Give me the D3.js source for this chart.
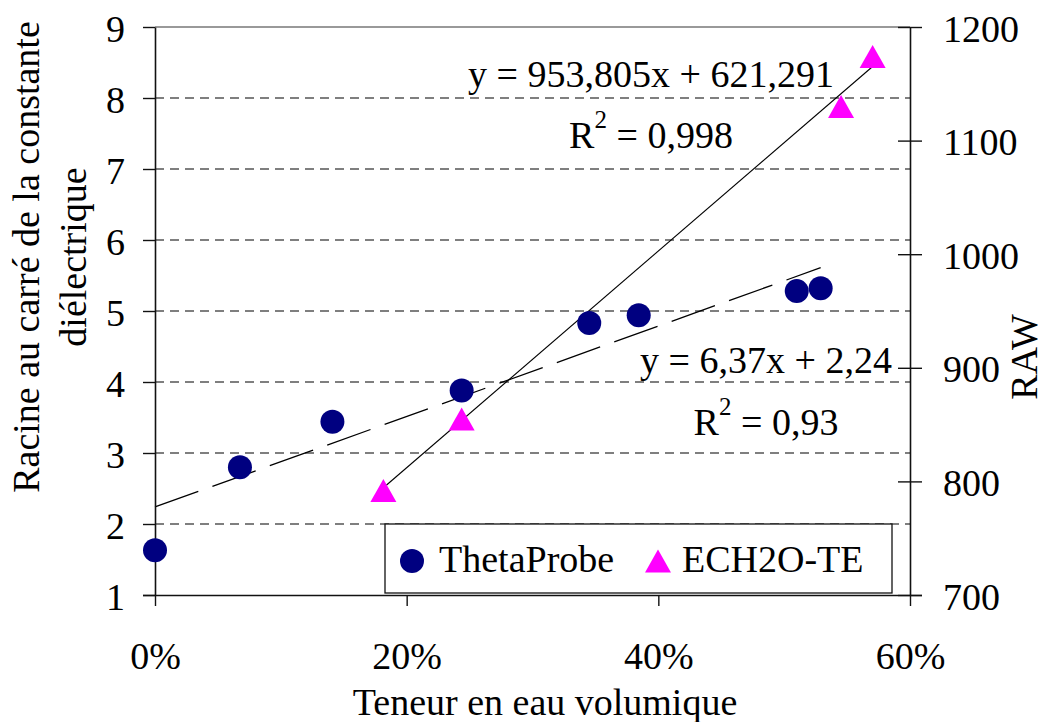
<!DOCTYPE html>
<html>
<head>
<meta charset="utf-8">
<script src="https://cdn.jsdelivr.net/npm/d3@7/dist/d3.min.js"></script>
<style>
  html, body { margin: 0; padding: 0; background: #fff; }
  svg { display: block; }
  text { font-family: "Liberation Serif", "Times New Roman", serif; fill: #000; }
</style>
</head>
<body>
<svg id="chart" width="1046" height="722"></svg>
<script>
// ThetaProbe: volumetric water content vs square root of dielectric constant (left axis)
const thetaX = [0, 0.0675, 0.141, 0.2437, 0.3451, 0.3844, 0.510, 0.529];
const thetaY = [1.63, 2.80, 3.44, 3.88, 4.83, 4.94, 5.28, 5.32];
// ECH2O-TE: volumetric water content vs raw reading (right axis)
const echoX = [0.1815, 0.2437, 0.5452, 0.5703];
const echoY = [792, 855, 1130, 1174];

// Linear fits shown on the chart
const thetaFit = { slope: 6.37, intercept: 2.24, label: "y = 6,37x + 2,24", r2: "0,93" };
const echoFit = { slope: 953.805, intercept: 621.291, label: "y = 953,805x + 621,291", r2: "0,998" };

const xTicks = [0, 0.2, 0.4, 0.6];
const leftTicks = [1, 2, 3, 4, 5, 6, 7, 8, 9];
const rightTicks = [700, 800, 900, 1000, 1100, 1200];
const seriesNames = ["ThetaProbe", "ECH2O-TE"];

const NAVY = "#000080", MAGENTA = "#FF00FF";
const FS = 38;

const svg = d3.select("#chart");
const L = 155, R = 910, T = 27, B = 595;

const x = d3.scaleLinear().domain([0, 0.6]).range([L, R]);
const yL = d3.scaleLinear().domain([1, 9]).range([B, T]);
const yR = d3.scaleLinear().domain([700, 1200]).range([B, T]);

// Horizontal gridlines
svg.append("g").selectAll("line")
  .data(leftTicks.filter(d => d > 1))
  .join("line")
  .attr("x1", L).attr("x2", R)
  .attr("y1", d => yL(d)).attr("y2", d => yL(d))
  .attr("stroke", d => d === 9 ? "#777" : "#555")
  .attr("stroke-width", 1.3)
  .attr("stroke-dasharray", d => d === 9 ? null : "9,6");

// Trend lines
const thetaDom = d3.extent(thetaX);
svg.append("line")
  .attr("x1", x(thetaDom[0])).attr("y1", yL(thetaFit.slope * thetaDom[0] + thetaFit.intercept))
  .attr("x2", x(thetaDom[1])).attr("y2", yL(thetaFit.slope * thetaDom[1] + thetaFit.intercept))
  .attr("stroke", "#000").attr("stroke-width", 1.3)
  .attr("stroke-dasharray", "46,15");

const echoDom = d3.extent(echoX);
svg.append("line")
  .attr("x1", x(echoDom[0])).attr("y1", yR(echoFit.slope * echoDom[0] + echoFit.intercept))
  .attr("x2", x(echoDom[1])).attr("y2", yR(echoFit.slope * echoDom[1] + echoFit.intercept))
  .attr("stroke", "#000").attr("stroke-width", 1.1);

// Axes
const axisStyle = g => {
  g.selectAll("path.domain").attr("stroke", "#111").attr("stroke-width", 1.6);
  g.selectAll(".tick line").attr("stroke", "#111").attr("stroke-width", 1.4);
  g.selectAll(".tick text").attr("font-size", FS).attr("font-family", "Liberation Serif, Times New Roman, serif").attr("fill", "#000");
};

const gL = svg.append("g").attr("transform", `translate(${L},0)`)
  .call(d3.axisLeft(yL).tickValues(leftTicks).tickFormat(d3.format("d")).tickSize(12).tickSizeOuter(0))
  .call(axisStyle);
gL.selectAll(".tick text").attr("x", -30).attr("dy", null).attr("y", 14);

const gR = svg.append("g").attr("transform", `translate(${R},0)`)
  .call(d3.axisRight(yR).tickValues(rightTicks).tickFormat(d3.format("d")).tickSize(12).tickSizeOuter(0))
  .call(axisStyle);
gR.selectAll(".tick line").attr("x1", -12);
gR.selectAll(".tick text").attr("x", 33).attr("dy", null).attr("y", 14);

const gB = svg.append("g").attr("transform", `translate(0,${B})`)
  .call(d3.axisBottom(x).tickValues(xTicks).tickFormat(d3.format(".0%")).tickSize(11).tickSizeOuter(0))
  .call(axisStyle);
gB.select("path.domain").attr("d", `M${L - 12},0.5H${R + 12}`);
gB.selectAll(".tick text").attr("dy", null).attr("y", 74);

// Points
svg.append("g").selectAll("circle")
  .data(thetaX.map((v, i) => [v, thetaY[i]]))
  .join("circle")
  .attr("cx", d => x(d[0])).attr("cy", d => yL(d[1]))
  .attr("r", 12).attr("fill", NAVY);

const triPath = (w, h) => `M0,${-h / 2}L${w / 2},${h / 2}L${-w / 2},${h / 2}Z`;
svg.append("g").selectAll("path")
  .data(echoX.map((v, i) => [v, echoY[i]]))
  .join("path")
  .attr("transform", d => `translate(${x(d[0])},${yR(d[1])})`)
  .attr("d", triPath(26, 23))
  .attr("fill", MAGENTA);

// Fit equations
function equation(cx, y1, y2, fit) {
  svg.append("text").attr("x", cx).attr("y", y1).attr("text-anchor", "middle")
    .attr("font-size", FS).text(fit.label);
  const t = svg.append("text").attr("x", cx).attr("y", y2).attr("text-anchor", "middle")
    .attr("font-size", FS);
  t.append("tspan").text("R");
  t.append("tspan").attr("font-size", 25).attr("dy", -20).text("2");
  t.append("tspan").attr("dy", 20).text(" = " + fit.r2);
}
equation(651, 87, 148, echoFit);
equation(766, 373, 435, thetaFit);

// Legend
const lg = svg.append("g");
lg.append("rect").attr("x", 385).attr("y", 524).attr("width", 507).attr("height", 69)
  .attr("fill", "#fff").attr("stroke", "#111").attr("stroke-width", 1.3);
lg.append("circle").attr("cx", 412).attr("cy", 561).attr("r", 12).attr("fill", NAVY);
lg.append("text").attr("x", 439).attr("y", 572).attr("font-size", FS).text(seriesNames[0]);
lg.append("path").attr("transform", "translate(658,561)").attr("d", triPath(26, 23)).attr("fill", MAGENTA);
lg.append("text").attr("x", 682).attr("y", 572).attr("font-size", FS).text(seriesNames[1]);

// Axis titles
svg.append("text").attr("x", 545).attr("y", 715).attr("text-anchor", "middle")
  .attr("font-size", FS).text("Teneur en eau volumique");

const yt = svg.append("text").attr("transform", "translate(39,257) rotate(-90)")
  .attr("text-anchor", "middle").attr("font-size", FS);
yt.append("tspan").attr("x", 0).attr("y", 0).text("Racine au carré de la constante");
yt.append("tspan").attr("x", 0).attr("y", 47).text("diélectrique");

svg.append("text").attr("transform", "translate(1037,357) rotate(-90)")
  .attr("text-anchor", "middle").attr("font-size", FS).text("RAW");
</script>
</body>
</html>
